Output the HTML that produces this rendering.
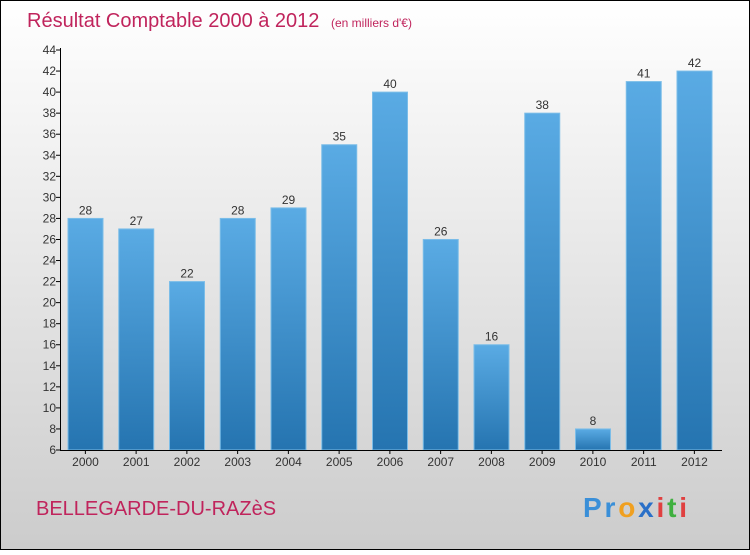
<!DOCTYPE html>
<html><head><meta charset="utf-8"><style>
body{margin:0;width:750px;height:550px;overflow:hidden;font-family:"Liberation Sans",sans-serif}
</style></head><body>
<svg width="750" height="550">
<defs>
<linearGradient id="bg" x1="0" y1="0" x2="0" y2="1"><stop offset="0" stop-color="#ffffff"/><stop offset="1" stop-color="#cccccc"/></linearGradient>
<linearGradient id="bar" x1="0" y1="0" x2="0" y2="1"><stop offset="0" stop-color="#5aabe4"/><stop offset="1" stop-color="#2574b0"/></linearGradient>
</defs>
<rect x="0.5" y="0.5" width="749" height="549" fill="url(#bg)" stroke="#000"/>
<text x="27" y="27" font-size="20" fill="#c0245c">Résultat Comptable 2000 à 2012 <tspan font-size="12" dx="6">(en milliers d'€)</tspan></text>
<text x="36" y="515" font-size="20" fill="#c0245c">BELLEGARDE-DU-RAZèS</text>
<text x="583" y="517" font-size="28" font-weight="bold" textLength="104"><tspan fill="#3a8fd8">Pr</tspan><tspan fill="#f0a020">o</tspan><tspan fill="#2a70c8">x</tspan><tspan fill="#e04040">i</tspan><tspan fill="#40b040">t</tspan><tspan fill="#e04040">i</tspan></text>
<g id="plot"></g>
</svg>
<script>
const years=["2000","2001","2002","2003","2004","2005","2006","2007","2008","2009","2010","2011","2012"];
const values=[28,27,22,28,29,35,40,26,16,38,8,41,42];
const ticks=[6,8,10,12,14,16,18,20,22,24,26,28,30,32,34,36,38,40,42,44];
const NS="http://www.w3.org/2000/svg";
const g=document.getElementById('plot');
const y=v=>450-(v-6)*400/38;
const bw=50.75, x0=60;
function mk(t,a){const e=document.createElementNS(NS,t);for(const k in a)e.setAttribute(k,a[k]);g.appendChild(e);return e;}
values.forEach((v,i)=>{
 const bx=x0+i*bw+8;
 const r=mk('rect',{x:bx,y:y(v),width:35,height:450-y(v),fill:'url(#bar)',stroke:'#7bbde8','stroke-width':1});
 
 
 const t=mk('text',{x:bx+17.5,y:y(v)-4,'text-anchor':'middle','font-size':12,fill:'#333'});
 t.textContent=v;
 
 
 const xl=mk('text',{x:bx+17.5,y:466,'text-anchor':'middle','font-size':12,fill:'#333'});
 xl.textContent=years[i];
 
 
 mk('line',{x1:x0+i*bw+bw/2,x2:x0+i*bw+bw/2,y1:450,y2:454,stroke:'#000'});
});
ticks.forEach(v=>{
 mk('line',{x1:56,x2:61,y1:y(v),y2:y(v),stroke:'#000'});
 const t=mk('text',{x:56,y:y(v)+4,'text-anchor':'end','font-size':12,fill:'#333'});
 t.textContent=v;
 
 
});
const ya=mk('line',{x1:60.5,x2:60.5,y1:48,y2:450,stroke:'#000'});


const xa=mk('line',{x1:60,x2:722,y1:450.5,y2:450.5,stroke:'#000'});


</script>
</body></html>
